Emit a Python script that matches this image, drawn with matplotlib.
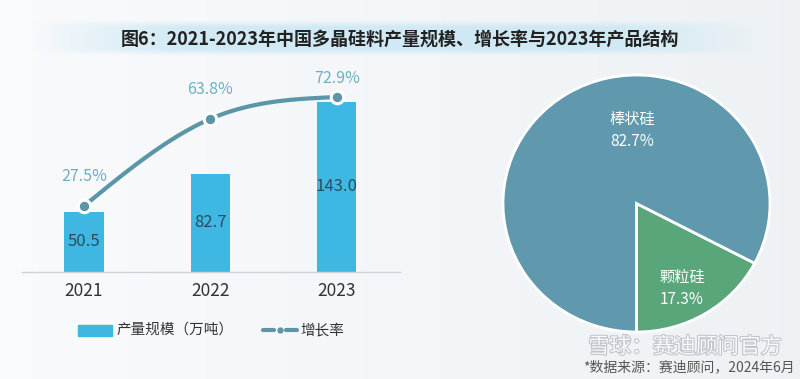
import numpy as np
import matplotlib
matplotlib.use("Agg")
import matplotlib.pyplot as plt
import matplotlib.patheffects as pe
from matplotlib.patches import Rectangle

plt.rcParams['font.family'] = ['Noto Sans CJK SC', 'DejaVu Sans']

# data
years = ['2021', '2022', '2023']
output = [50.5, 82.7, 143.0]      # 产量规模（万吨）
growth = [27.5, 63.8, 72.9]       # 增长率 %
pie_labels = ['颗粒硅', '棒状硅']
pie_shares = [17.3, 82.7]

TITLE = '图6：2021-2023年中国多晶硅料产量规模、增长率与2023年产品结构'
SOURCE = '*数据来源：赛迪顾问，2024年6月'

BAR_C = '#3eb7e2'
LINE_C = '#5b96a8'
PCT_C = '#6db0c2'
VAL_C = '#2c4d60'
PIE_C = ['#5aa67b', '#6099ae']

W, H = 800, 379
fig = plt.figure(figsize=(W / 100, H / 100), dpi=100)


def px_axes(x0, y0, x1, y1):
    # pixel box, measured from the top-left corner
    return fig.add_axes([x0 / W, 1 - y1 / H, (x1 - x0) / W, (y1 - y0) / H])


def natural_spline(x, y, n=200):
    x = np.asarray(x, float)
    y = np.asarray(y, float)
    k = len(x)
    h = np.diff(x)
    A = np.zeros((k, k))
    b = np.zeros(k)
    A[0, 0] = A[-1, -1] = 1
    for i in range(1, k - 1):
        A[i, i - 1] = h[i - 1]
        A[i, i] = 2 * (h[i - 1] + h[i])
        A[i, i + 1] = h[i]
        b[i] = 6 * ((y[i + 1] - y[i]) / h[i] - (y[i] - y[i - 1]) / h[i - 1])
    M = np.linalg.solve(A, b)
    xs = np.linspace(x[0], x[-1], n)
    ys = np.empty_like(xs)
    for j, t in enumerate(xs):
        i = min(np.searchsorted(x, t, side='right') - 1, k - 2)
        a, c = x[i], x[i + 1]
        hi = c - a
        ys[j] = (M[i] * (c - t) ** 3 / (6 * hi) + M[i + 1] * (t - a) ** 3 / (6 * hi)
                 + (y[i] / hi - M[i] * hi / 6) * (c - t)
                 + (y[i + 1] / hi - M[i + 1] * hi / 6) * (t - a))
    return xs, ys


# background + title band
bg = fig.add_axes([0, 0, 1, 1])
bg.set_xlim(0, W)
bg.set_ylim(H, 0)
bg.axis('off')
gx = np.linspace(0, 1, 400)
base = np.ones((2, 400, 3))
col0 = np.array([0.975, 0.982, 0.99])
col1 = np.array([0.935, 0.948, 0.96])
for c in range(3):
    base[:, :, c] = col0[c] + (col1[c] - col0[c]) * gx
bg.imshow(base, extent=(0, W, H, 0), aspect='auto', zorder=0)

band = np.zeros((40, 400, 4))
band[:, :, 0] = 0.80
band[:, :, 1] = 0.91
band[:, :, 2] = 0.96
ax_prof = np.clip(np.sin(np.pi * gx) * 1.6, 0, 1)
gy = np.linspace(0, 1, 40)
ay_prof = np.clip(np.sin(np.pi * gy) * 1.8, 0, 1)
band[:, :, 3] = np.outer(ay_prof, ax_prof) * 0.9
bg.imshow(band, extent=(30, 770, 56, 20), aspect='auto', zorder=1)
bg.text(400, 39, TITLE, ha='center', va='center', fontsize=13,
        fontweight='bold', color='#222222', zorder=2)

# bar + line chart
x = np.arange(len(years))
ax = px_axes(22, 70, 400, 272)
ax.patch.set_alpha(0)
ax.bar(x, output, width=0.31, color=BAR_C, zorder=2)
ax.set_xlim(-0.49, 2.5)
ax.set_ylim(0, 202 / 1.19)
for s in ['top', 'right', 'left']:
    ax.spines[s].set_visible(False)
ax.spines['bottom'].set_color('#cdd3d8')
ax.spines['bottom'].set_linewidth(1)
ax.set_yticks([])
ax.set_xticks(x)
ax.set_xticklabels(years, fontsize=12.5, color='#333333')
ax.tick_params(axis='x', length=0, pad=7)
for xi, v in zip(x, output):
    ax.text(xi, v / 2, f'{v:.1f}', ha='center', va='center',
            fontsize=12, color=VAL_C, zorder=3)

ax2 = ax.twinx()
ax2.set_ylim(0, 202 / 2.4)
ax2.axis('off')
xs, ys = natural_spline(x, growth)
ax2.plot(xs, ys, color=LINE_C, lw=3, solid_capstyle='round', zorder=3)
ax2.plot(x, growth, 'o', ms=9, color=LINE_C, mec='white', mew=2.2, zorder=4)
pct_off = [21, 21, 13]
for xi, g, off in zip(x, growth, pct_off):
    ax2.annotate(f'{g:.1f}%', (xi, g), xytext=(0, off), textcoords='offset points',
                 ha='center', va='center', fontsize=11.5, color=PCT_C)

# legend
bg.add_patch(Rectangle((78, 325), 34, 11, color=BAR_C, zorder=2))
bg.text(116, 330, '产量规模（万吨）', ha='left', va='center', fontsize=10.5,
        color='#333333', zorder=2)
bg.plot([263, 274], [330, 330], color=LINE_C, lw=3, solid_capstyle='round', zorder=2)
bg.plot([286, 297], [330, 330], color=LINE_C, lw=3, solid_capstyle='round', zorder=2)
bg.plot([280], [330], 'o', ms=3.5, color=LINE_C, zorder=2)
bg.text(300, 330, '增长率', ha='left', va='center', fontsize=10.5,
        color='#333333', zorder=2)

# pie
axp = px_axes(503, 75, 770, 332)
axp.pie(pie_shares, colors=PIE_C, startangle=-90, counterclock=True,
        wedgeprops=dict(edgecolor='white', linewidth=2))
axp.set_aspect('auto')
axp.set_xlim(-1, 1)
axp.set_ylim(-1, 1)
label_pos = [(0.34, -0.66), (-0.03, 0.57)]
for (lx, ly), name, share in zip(label_pos, pie_labels, pie_shares):
    axp.text(lx, ly, f'{name}\n{share:.1f}%', ha='center', va='center',
             fontsize=11, color='white', linespacing=1.35)

# watermark + source
bg.text(685, 347, '雪球：赛迪顾问官方', ha='center', va='center', fontsize=15.5,
        color='white', alpha=0.9, zorder=3,
        path_effects=[pe.withStroke(linewidth=1.5, foreground='#b8bec4')])
bg.text(795, 367, SOURCE, ha='right', va='center', fontsize=10,
        color='#555555', zorder=4)

fig.savefig('out.png', dpi=100)
